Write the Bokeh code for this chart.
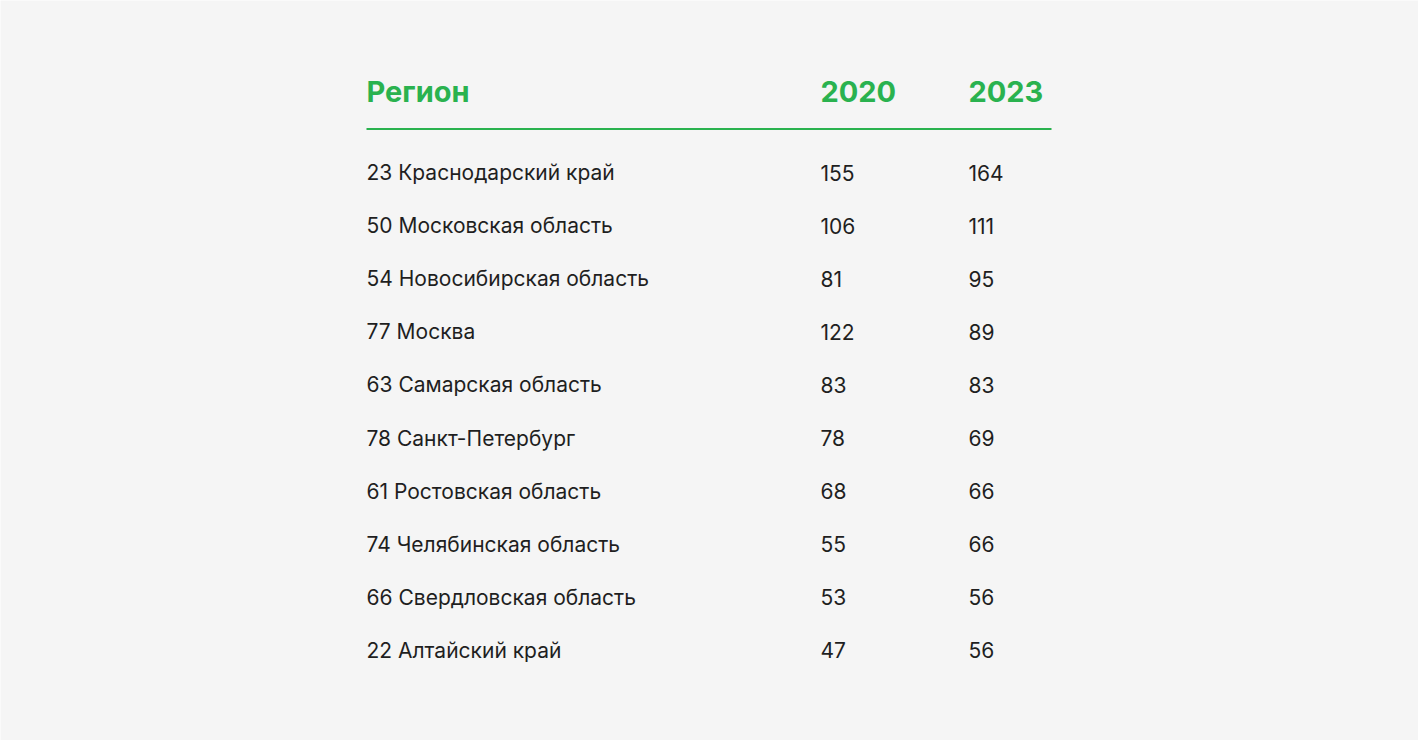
from bokeh.plotting import figure
from bokeh.models import Range1d, ColumnDataSource
from bokeh.core.properties import value
from bokeh.embed import file_html
from bokeh.resources import INLINE

header = ["Регион", "2020", "2023"]
regions = ["23 Краснодарский край", "50 Московская область", "54 Новосибирская область",
           "77 Москва", "63 Самарская область", "78 Санкт-Петербург",
           "61 Ростовская область", "74 Челябинская область", "66 Свердловская область",
           "22 Алтайский край"]
v2020 = [155, 106, 81, 122, 83, 78, 68, 55, 53, 47]
v2023 = [164, 111, 95, 89, 83, 69, 66, 66, 56, 56]

W, H = 1418, 740
GREEN = "#2ab24f"
TEXT = "#1f1f1f"
BG = "#f5f5f5"

p = figure(width=W, height=H, x_range=Range1d(0, W), y_range=Range1d(H, 0),
           output_backend="svg", toolbar_location=None, min_border=0)
p.axis.visible = False
p.grid.visible = False
p.outline_line_color = None
p.background_fill_color = BG
p.border_fill_color = BG

col_x = [366, 820, 968]
header_y = 91
row0, step = 172, 53.1

p.text(x=col_x, y=[header_y] * 3, text=header, text_color=GREEN,
       text_font=value("Inter"), text_font_style="bold", text_font_size="29px",
       text_baseline="middle", text_align="left")
p.segment(x0=[366], y0=[128.5], x1=[1051], y1=[128.5], line_color=GREEN, line_width=2)

ys = [row0 + i * step for i in range(len(regions))]
src = ColumnDataSource(dict(y=ys, r=regions, a=[str(v) for v in v2020], b=[str(v) for v in v2023]))
for x, col in zip(col_x, ["r", "a", "b"]):
    p.text(x=x, y="y", text=col, source=src, text_color=TEXT,
           text_font=value("Inter"), text_font_size="21px",
           text_baseline="middle", text_align="left")

html = file_html(p, INLINE)
html = html.replace("<body>", '<body style="margin:0;background:#f5f5f5;overflow:hidden">', 1)
open("out.html", "w").write(html)
